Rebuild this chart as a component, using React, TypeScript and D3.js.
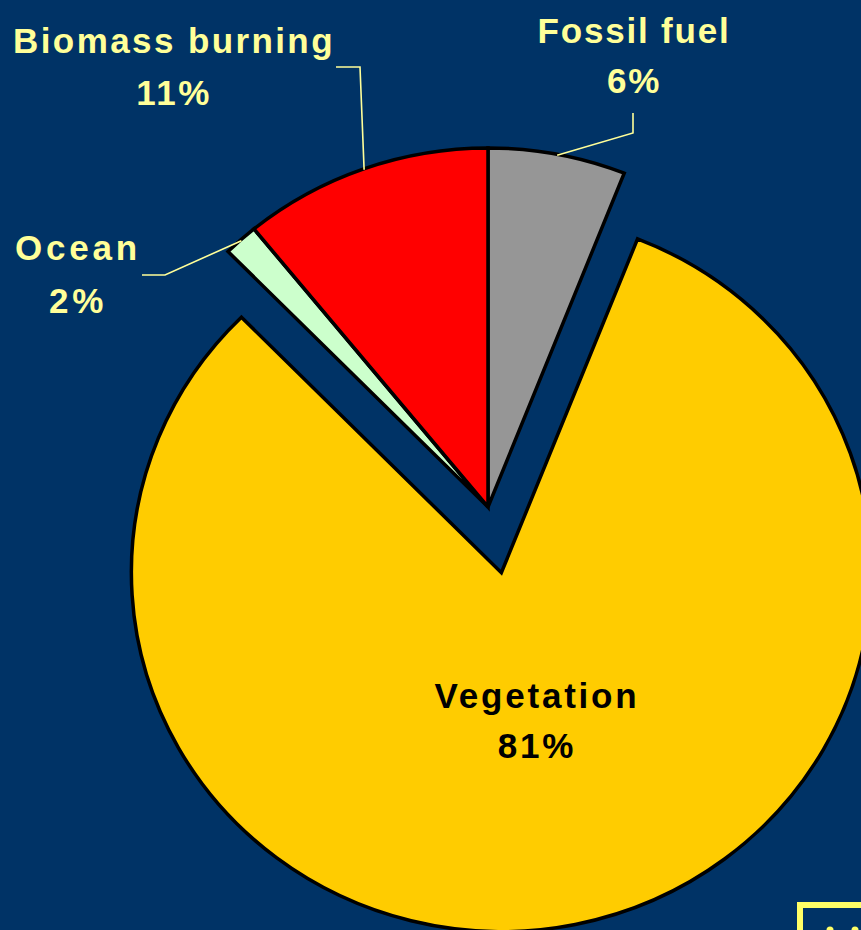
/** Sources pie — exploded vegetation slice on a navy slide background. */

import { useMemo } from "react";
import * as d3 from "d3";

const categories = ["Fossil fuel", "Vegetation", "Ocean", "Biomass burning"];
const shares = [6.0, 81.6, 1.5, 10.9];
const percentLabels = ["6%", "81%", "2%", "11%"];
const sliceColors = ["#969696", "#FFCC00", "#CCFFCC", "#FF0000"];

const W = 861;
const H = 930;
const BG = "#003366";
const LABEL = "#FFFF99";

// pie geometry (slightly wider than tall, like the original slide)
const cx = 488;
const cy = 507;
const ry = 359;
const rx = 370;
const explodeIdx = 1;
const explodeDist = 67;

// label layout: text centre, baselines, leader elbow/end
const labelLayout = [
  { x: 634, y1: 43, y2: 93, ls: 1.8, leader: [[633, 133], [633, 113]] },
  { x: 537, y1: 708, y2: 758, ls: 2.8, leader: null },
  { x: 78, y1: 260, y2: 313, ls: 3.8, leader: [[165, 275], [142, 275]] },
  { x: 174, y1: 53, y2: 105, ls: 2.4, leader: [[360, 67], [336, 67]] },
];

export default function App() {
  const data = useMemo(
    () => categories.map((c, i) => ({ name: c, value: shares[i], i })),
    [],
  );

  const arcs = useMemo(
    () =>
      d3
        .pie<(typeof data)[0]>()
        .sort(null)
        .value((d) => d.value)
        .startAngle(0)
        .endAngle(2 * Math.PI)(data),
    [data],
  );

  const arc = d3
    .arc<d3.PieArcDatum<(typeof data)[0]>>()
    .innerRadius(0)
    .outerRadius(ry);

  const sx = rx / ry;
  const pt = (a: number, r: number): [number, number] => [
    cx + Math.sin(a) * r * sx,
    cy - Math.cos(a) * r,
  ];

  return (
    <div style={{ position: "fixed", left: 0, top: 0, width: W, height: H }}>
      <svg width={W} height={H} style={{ display: "block" }}>
        <rect width={W} height={H} fill={BG} />

        {/* slices */}
        <g transform={`translate(${cx},${cy}) scale(${sx},1)`}>
          {arcs.map((a) => {
            const mid = (a.startAngle + a.endAngle) / 2;
            const off = a.data.i === explodeIdx ? explodeDist : 0;
            const dx = (Math.sin(mid) * off) / sx;
            const dy = -Math.cos(mid) * off;
            return (
              <path
                key={a.data.name}
                d={arc(a) ?? ""}
                transform={`translate(${dx},${dy})`}
                fill={sliceColors[a.data.i]}
                stroke="#000"
                strokeWidth={3.5}
                strokeLinejoin="miter"
                vectorEffect="non-scaling-stroke"
              />
            );
          })}
        </g>

        {/* leader lines */}
        {arcs.map((a) => {
          const lay = labelLayout[a.data.i];
          if (!lay.leader) return null;
          const mid = (a.startAngle + a.endAngle) / 2;
          const pts: [number, number][] = [pt(mid, ry - 1), ...(lay.leader as [number, number][])];
          return (
            <path
              key={`l-${a.data.name}`}
              d={d3.line()(pts) ?? ""}
              fill="none"
              stroke={LABEL}
              strokeWidth={1.6}
            />
          );
        })}

        {/* labels */}
        <g
          fontFamily="'Liberation Sans', Arial, Helvetica, sans-serif"
          fontWeight="bold"
          fontSize={35}
          textAnchor="middle"
        >
          {data.map((d) => {
            const lay = labelLayout[d.i];
            const fill = d.i === explodeIdx ? "#000" : LABEL;
            return (
              <g key={`t-${d.name}`} fill={fill} style={{ letterSpacing: `${lay.ls}px` }}>
                <text x={lay.x} y={lay.y1}>
                  {d.name}
                </text>
                <text x={lay.x} y={lay.y2}>
                  {percentLabels[d.i]}
                </text>
              </g>
            );
          })}
        </g>

        {/* slide navigation button, cut off at the corner */}
        <rect
          x={800}
          y={905}
          width={100}
          height={60}
          fill={BG}
          stroke="#FFFF66"
          strokeWidth={6}
        />
        <circle cx={830} cy={930} r={3.5} fill="#FFFF66" />
        <circle cx={855} cy={930} r={3.5} fill="#FFFF66" />
      </svg>
    </div>
  );
}
